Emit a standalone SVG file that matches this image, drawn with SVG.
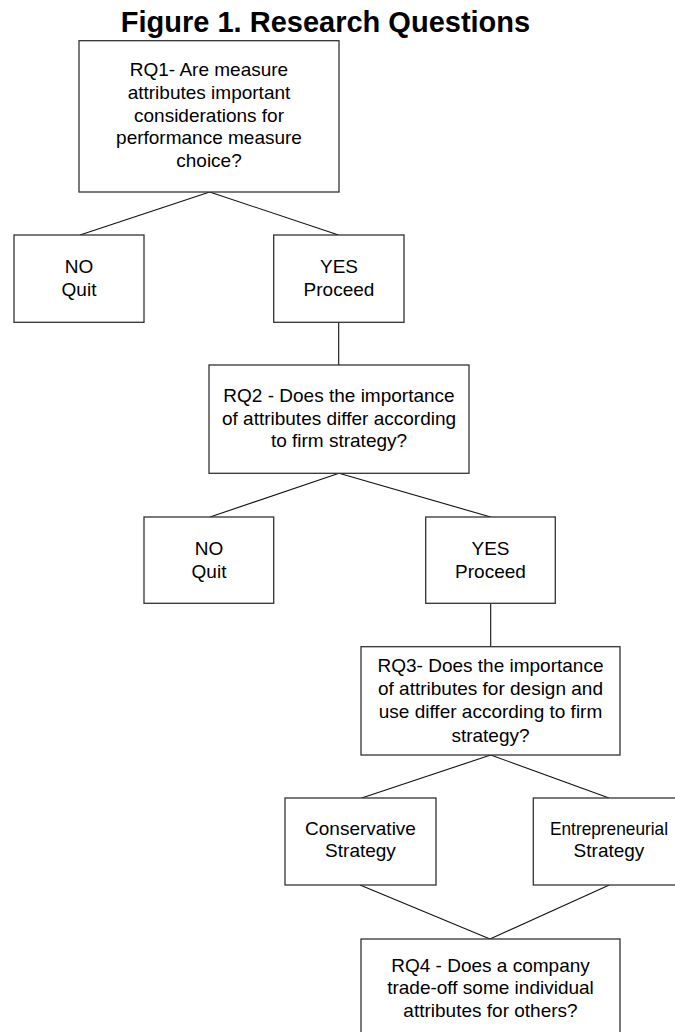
<svg xmlns="http://www.w3.org/2000/svg" width="675" height="1032" viewBox="0 0 675 1032">
<style>
.box{fill:#fff;stroke:#333;stroke-width:1.3}
.t{font-family:"Liberation Sans",Arial,sans-serif;font-size:19px;fill:#000;text-anchor:middle}
.title{font-family:"Liberation Sans",Arial,sans-serif;font-size:29px;font-weight:bold;fill:#000;text-anchor:middle}
.c{stroke:#111;stroke-width:1.1;fill:none}
</style>
<rect width="675" height="1032" fill="#fff"/>
<text class="title" x="325.5" y="31.5">Figure 1. Research Questions</text>
<g id="connectors">
<line class="c" x1="209.7" y1="192" x2="80" y2="235"/>
<line class="c" x1="209.7" y1="192" x2="338.5" y2="235"/>
<line class="c" x1="338.7" y1="322.3" x2="338.7" y2="365"/>
<line class="c" x1="339" y1="473.3" x2="210" y2="517"/>
<line class="c" x1="339" y1="473.3" x2="490.7" y2="517"/>
<line class="c" x1="490.7" y1="603.3" x2="490.7" y2="646.7"/>
<line class="c" x1="490.7" y1="755" x2="361.7" y2="798"/>
<line class="c" x1="490.7" y1="755" x2="609" y2="798"/>
<line class="c" x1="360" y1="885" x2="490" y2="939"/>
<line class="c" x1="609.3" y1="885" x2="490" y2="939"/>
</g>
<g id="rq1">
<rect class="box" x="79" y="40.7" width="260" height="151.3"/>
<text class="t" x="209" y="75.7">RQ1- Are measure</text>
<text class="t" x="209" y="98.5">attributes important</text>
<text class="t" x="209" y="121.5">considerations for</text>
<text class="t" x="209" y="144.3">performance measure</text>
<text class="t" x="209" y="167.2">choice?</text>
</g>
<g id="no1">
<rect class="box" x="14" y="235" width="130" height="87.3"/>
<text class="t" x="79" y="272.7">NO</text>
<text class="t" x="79" y="296">Quit</text>
</g>
<g id="yes1">
<rect class="box" x="273.7" y="235" width="130.3" height="87.3"/>
<text class="t" x="339" y="272.7">YES</text>
<text class="t" x="339" y="296">Proceed</text>
</g>
<g id="rq2">
<rect class="box" x="209" y="365" width="260" height="108.3"/>
<text class="t" x="339" y="401.7">RQ2 - Does the importance</text>
<text class="t" x="339" y="424.7">of attributes differ according</text>
<text class="t" x="339" y="447.3">to firm strategy?</text>
</g>
<g id="no2">
<rect class="box" x="144" y="517" width="129.7" height="86.3"/>
<text class="t" x="209" y="555">NO</text>
<text class="t" x="209" y="578.3">Quit</text>
</g>
<g id="yes2">
<rect class="box" x="425.7" y="517" width="129.6" height="86.3"/>
<text class="t" x="490.5" y="555">YES</text>
<text class="t" x="490.5" y="578.3">Proceed</text>
</g>
<g id="rq3">
<rect class="box" x="361" y="646.7" width="259" height="108.3"/>
<text class="t" x="490.5" y="671.7">RQ3- Does the importance</text>
<text class="t" x="490.5" y="695">of attributes for design and</text>
<text class="t" x="490.5" y="718.3">use differ according to firm</text>
<text class="t" x="490.5" y="741.7">strategy?</text>
</g>
<g id="conservative">
<rect class="box" x="285" y="798" width="151" height="87"/>
<text class="t" x="360.5" y="835">Conservative</text>
<text class="t" x="360.5" y="857.3">Strategy</text>
</g>
<g id="entrepreneurial">
<rect class="box" x="533.3" y="798" width="152" height="87"/>
<text class="t" x="609" y="835" textLength="118" lengthAdjust="spacingAndGlyphs">Entrepreneurial</text>
<text class="t" x="609" y="857.3">Strategy</text>
</g>
<g id="rq4">
<rect class="box" x="361" y="939" width="259" height="100"/>
<text class="t" x="490.5" y="971.7">RQ4 - Does a company</text>
<text class="t" x="490.5" y="994.3">trade-off some individual</text>
<text class="t" x="490.5" y="1017.3">attributes for others?</text>
</g>
</svg>
